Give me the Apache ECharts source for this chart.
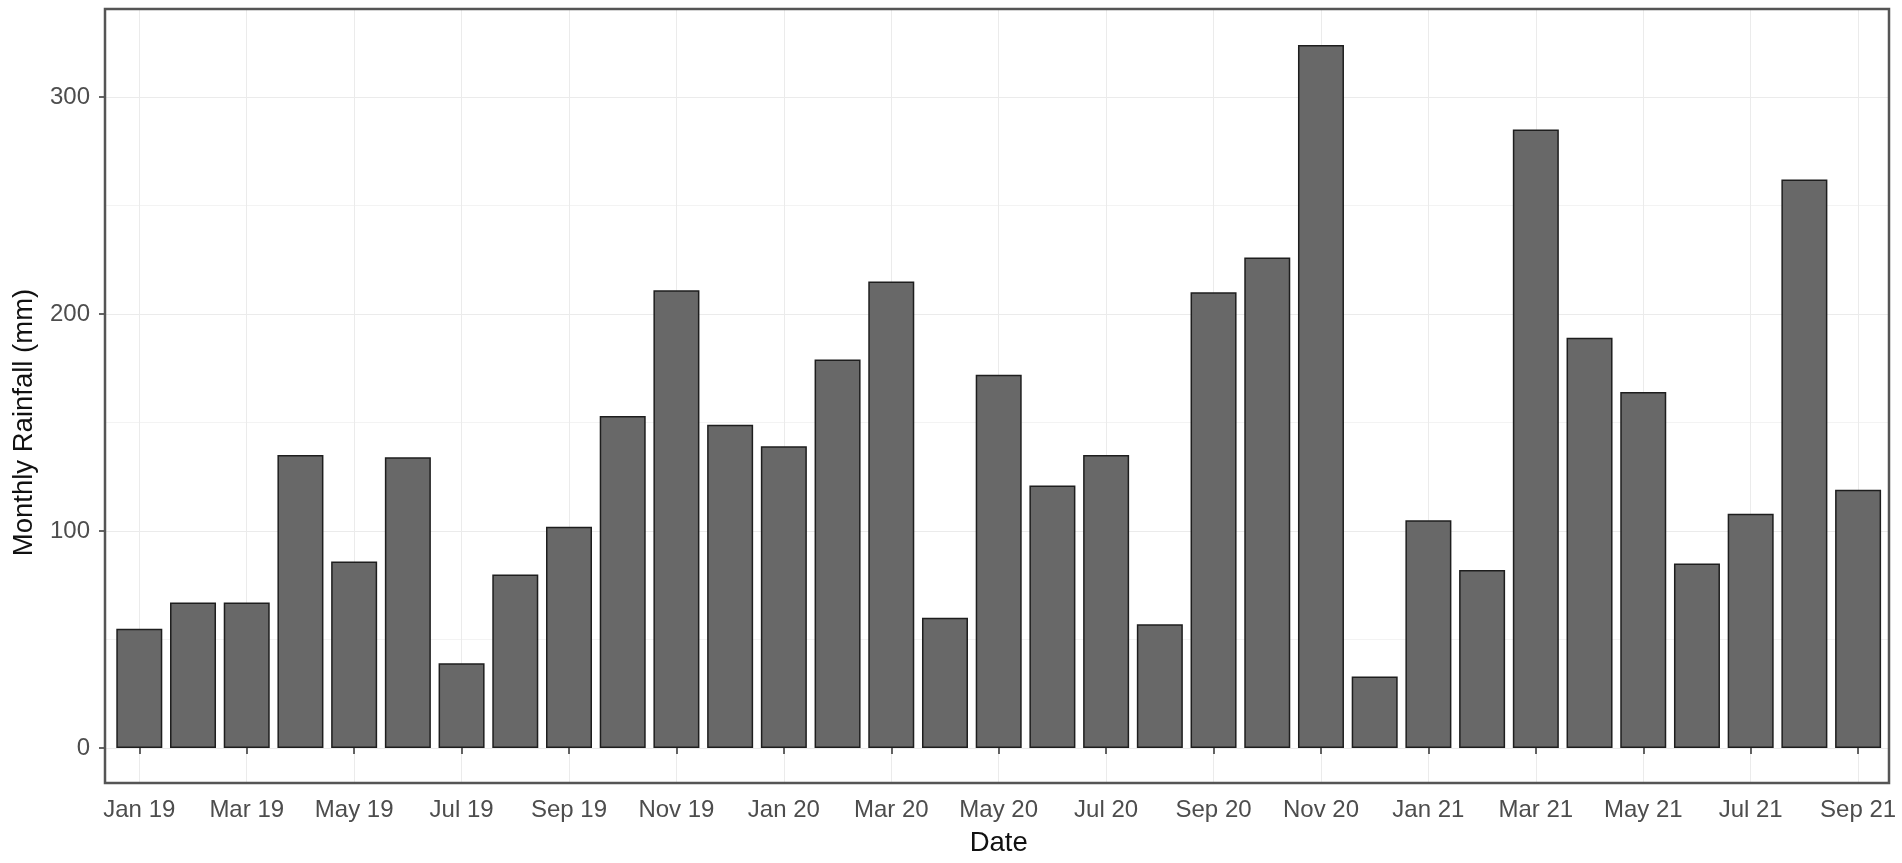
<!DOCTYPE html>
<html>
<head>
<meta charset="utf-8">
<script src="https://cdn.jsdelivr.net/npm/echarts@6/dist/echarts.min.js"></script>
<style>
html,body{margin:0;padding:0;background:#ffffff;}
#chart{width:1902px;height:863px;}
</style>
</head>
<body>
<div id="chart"></div>
<script>
// ---- data ----
const categories = [
  'Jan 19','Feb 19','Mar 19','Apr 19','May 19','Jun 19','Jul 19','Aug 19','Sep 19','Oct 19','Nov 19','Dec 19',
  'Jan 20','Feb 20','Mar 20','Apr 20','May 20','Jun 20','Jul 20','Aug 20','Sep 20','Oct 20','Nov 20','Dec 20',
  'Jan 21','Feb 21','Mar 21','Apr 21','May 21','Jun 21','Jul 21','Aug 21','Sep 21'
];
const rainfall = [
  55, 67, 67, 135, 86, 134, 39, 80, 102, 153, 211, 149,
  139, 179, 215, 60, 172, 121, 135, 57, 210, 226, 324, 33,
  105, 82, 285, 189, 164, 85, 108, 262, 119
];
const xTitle = 'Date';
const yTitle = 'Monthly Rainfall (mm)';

// ---- chart ----
const FONT = '"Liberation Sans", Arial, sans-serif';
const chart = echarts.init(document.getElementById('chart'), null, {renderer: 'canvas'});

chart.setOption({
  animation: false,
  backgroundColor: '#ffffff',
  textStyle: {fontFamily: FONT},
  grid: [
    // panel frame
    {left: 105, right: 13, top: 9, bottom: 80, show: true, borderColor: '#555555', borderWidth: 2.5, backgroundColor: 'transparent', z: 10},
    // major horizontal grid + y labels (0..300)
    {left: 105, right: 13, top: 97, bottom: 115},
    // minor horizontal grid (50..250)
    {left: 105, right: 13, top: 205.5, bottom: 223.5},
    // data
    {left: 139.3, right: 43.9, top: 9, bottom: 80}
  ],
  xAxis: [
    {gridIndex: 0, type: 'value', show: false, min: 0, max: 1},
    {gridIndex: 1, type: 'value', show: false, min: 0, max: 1},
    {gridIndex: 2, type: 'value', show: false, min: 0, max: 1},
    {
      gridIndex: 3, type: 'category', data: categories, boundaryGap: false,
      axisLine: {show: false},
      axisTick: {show: true, interval: 1, length: 6, lineStyle: {color: '#333333', width: 1.5}},
      axisLabel: {interval: 1, margin: 15, fontSize: 24, color: '#4d4d4d', fontFamily: FONT},
      splitLine: {show: true, interval: 1, lineStyle: {color: '#ebebeb', width: 1}},
      name: xTitle, nameLocation: 'middle', nameGap: 46,
      nameTextStyle: {fontSize: 27.5, color: '#111111', fontFamily: FONT}
    }
  ],
  yAxis: [
    {gridIndex: 0, type: 'value', show: false, min: 0, max: 1},
    {
      gridIndex: 1, type: 'value', min: 0, max: 300, interval: 100,
      axisLine: {show: false},
      axisTick: {show: true, length: 6, lineStyle: {color: '#333333', width: 1.5}},
      axisLabel: {margin: 15, fontSize: 24, color: '#4d4d4d', fontFamily: FONT},
      splitLine: {show: true, lineStyle: {color: '#ebebeb', width: 1}},
      name: yTitle, nameLocation: 'middle', nameGap: 67, nameRotate: 90,
      nameTextStyle: {fontSize: 27.5, color: '#111111', fontFamily: FONT}
    },
    {
      gridIndex: 2, type: 'value', min: 50, max: 250, interval: 100,
      axisLine: {show: false}, axisTick: {show: false}, axisLabel: {show: false},
      splitLine: {show: true, lineStyle: {color: '#f3f3f3', width: 1}}
    },
    {gridIndex: 3, type: 'value', show: false, min: -16.13, max: 340.55}
  ],
  series: [{
    type: 'bar',
    xAxisIndex: 3, yAxisIndex: 3,
    data: rainfall,
    barWidth: 46,
    clip: false,
    itemStyle: {color: '#686868', borderColor: '#1e1e1e', borderWidth: 1.5}
  }]
});
</script>
</body>
</html>
